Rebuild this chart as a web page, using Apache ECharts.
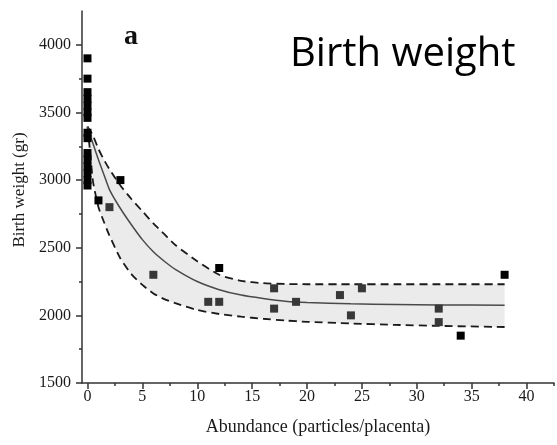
<!DOCTYPE html>
<html><head><meta charset="utf-8">
<script src="https://cdn.jsdelivr.net/npm/echarts@6/dist/echarts.min.js"></script>
<style>html,body{margin:0;padding:0;background:#fff}#c{width:557px;height:445px}</style>
</head><body><div id="c"></div>
<script>
// Observations at zero abundance (birth weight, gr)
const clusterAtZero = [3900, 3750, 3650, 3600, 3550, 3500, 3460, 3350, 3310, 3200, 3150, 3100, 3050, 3000, 2960];
// Observations outside the confidence band
const outsidePoints = [[1, 2850], [3, 3000], [12, 2350], [34, 1850], [38, 2300]];
// Observations inside the confidence band
const insidePoints = [[2, 2800], [6, 2300], [11, 2100], [12, 2100], [17, 2200], [17, 2050], [19, 2100],
  [23, 2150], [24, 2000], [25, 2200], [32, 2050], [32, 1950]];
// Fitted curve and band
const fitX     = [0,    0.25, 0.5,  1,    1.5,  2,    3,    4,    5,    6,    7,    8,    10,   12,   14,   16,   18,   20,   24,   28,   32,   38];
const fitMean  = [3395, 3330, 3270, 3150, 3040, 2930, 2790, 2670, 2560, 2470, 2400, 2340, 2250, 2190, 2150, 2125, 2105, 2095, 2085, 2080, 2077, 2075];
const fitUpper = [3395, 3365, 3330, 3230, 3150, 3080, 2960, 2860, 2770, 2680, 2600, 2520, 2400, 2300, 2255, 2238, 2232, 2230, 2230, 2230, 2230, 2230];
const fitLower = [3395, 3200, 2990, 2800, 2690, 2590, 2420, 2305, 2225, 2162, 2120, 2090, 2040, 2010, 1990, 1975, 1962, 1952, 1940, 1930, 1922, 1914];
// Tick values
const xTicks = [0, 5, 10, 15, 20, 25, 30, 35, 40];
const xMinorTicks = [2.5, 7.5, 12.5, 17.5, 22.5, 27.5, 32.5, 37.5, 42.5];
const yTicks = [1500, 2000, 2500, 3000, 3500, 4000];
const yMinorTicks = [1750, 2250, 2750, 3250, 3750];

const axisColor = '#333';
const serif = '"Liberation Serif", "DejaVu Serif", serif';

const chart = echarts.init(document.getElementById('c'), null, {renderer: 'canvas'});
chart.setOption({
  animation: false,
  backgroundColor: '#fff',
  grid: {left: 82, right: 3, top: 11, bottom: 62},
  graphic: [
    {type: 'text', left: 124, top: 23, style: {text: 'a', font: 'bold 28px ' + serif, fill: '#111'}},
    {type: 'text', x: 290, y: 55, style: {text: 'Birth weight', font: '40px "Open Sans", sans-serif', fill: '#000', textVerticalAlign: 'middle'}}
  ],
  xAxis: [{
    type: 'value', min: -0.5, max: 42.5,
    axisLine: {show: true, onZero: false, lineStyle: {color: axisColor, width: 1.5}},
    axisTick: {show: true, customValues: xTicks, length: 6, lineStyle: {color: axisColor, width: 1.5}},
    axisLabel: {customValues: xTicks, formatter: v => String(v), fontFamily: serif, fontSize: 16, color: '#1a1a1a', margin: 6},
    splitLine: {show: false},
    name: 'Abundance (particles/placenta)', nameLocation: 'middle', nameGap: 35,
    nameTextStyle: {fontFamily: serif, fontSize: 18, color: '#1a1a1a'}
  }, {
    type: 'value', min: -0.5, max: 42.5, position: 'bottom',
    axisLine: {show: false, onZero: false},
    axisTick: {show: true, customValues: xMinorTicks, length: 3, lineStyle: {color: axisColor, width: 1.5}},
    axisLabel: {show: false}, splitLine: {show: false}
  }],
  yAxis: [{
    type: 'value', min: 1500, max: 4250,
    axisLine: {show: true, onZero: false, lineStyle: {color: axisColor, width: 1.5}},
    axisTick: {show: true, customValues: yTicks, length: 6, lineStyle: {color: axisColor, width: 1.5}},
    axisLabel: {customValues: yTicks, formatter: v => String(v), fontFamily: serif, fontSize: 16, color: '#1a1a1a', margin: 11},
    splitLine: {show: false},
    name: 'Birth weight (gr)', nameLocation: 'middle', nameGap: 43,
    nameTextStyle: {fontFamily: serif, fontSize: 17, color: '#1a1a1a', padding: [0, 0, 0, 14]}
  }, {
    type: 'value', min: 1500, max: 4250, position: 'left',
    axisLine: {show: false, onZero: false},
    axisTick: {show: true, customValues: yMinorTicks, length: 3, lineStyle: {color: axisColor, width: 1.5}},
    axisLabel: {show: false}, splitLine: {show: false}
  }],
  series: [
    {
      type: 'custom', silent: true, z: 1,
      data: [[0, fitMean[0]]],
      renderItem: function (params, api) {
        const up = fitX.map((x, i) => api.coord([x, fitUpper[i]]));
        const lo = fitX.map((x, i) => api.coord([x, fitLower[i]])).reverse();
        return {type: 'polygon', shape: {points: up.concat(lo)}, style: {fill: '#ebebeb'}};
      }
    },
    {type: 'line', z: 2, silent: true, showSymbol: false, smooth: 0.2,
      data: fitX.map((x, i) => [x, fitUpper[i]]),
      lineStyle: {color: '#1a1a1a', width: 1.8, type: [8, 5]}},
    {type: 'line', z: 2, silent: true, showSymbol: false, smooth: 0.2,
      data: fitX.map((x, i) => [x, fitLower[i]]),
      lineStyle: {color: '#1a1a1a', width: 1.8, type: [8, 5]}},
    {type: 'line', z: 3, silent: true, showSymbol: false, smooth: 0.2,
      data: fitX.map((x, i) => [x, fitMean[i]]),
      lineStyle: {color: '#4a4a4a', width: 1.5}},
    {type: 'scatter', z: 4, symbol: 'rect', symbolSize: 8,
      data: clusterAtZero.map(v => [0, v]).concat(outsidePoints),
      itemStyle: {color: '#000', opacity: 1}},
    {type: 'scatter', z: 4, symbol: 'rect', symbolSize: 8,
      data: insidePoints,
      itemStyle: {color: '#383838', opacity: 1}}
  ]
});
</script>
</body></html>
